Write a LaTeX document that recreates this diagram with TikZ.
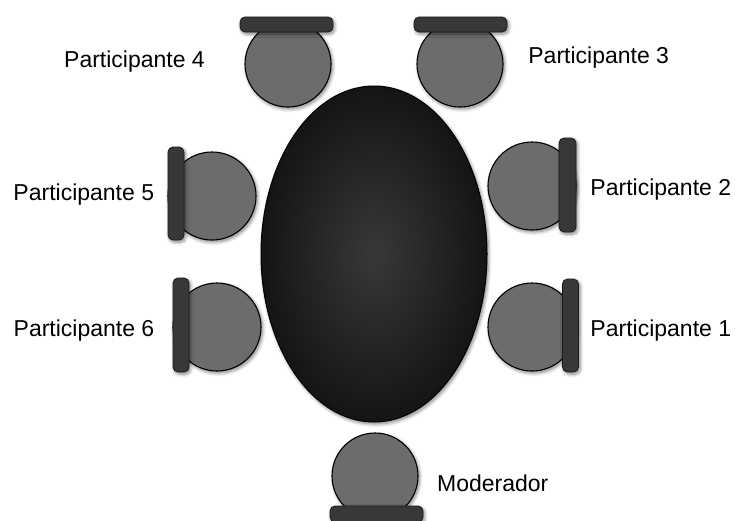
\documentclass[tikz,border=0pt]{standalone}
\usepackage{fontspec}
\setmainfont{Liberation Sans}
\usetikzlibrary{shapes.geometric,shadows.blur}
\definecolor{seat}{HTML}{6C6C6C}
\definecolor{backrest}{HTML}{383838}
\tikzset{
  shd/.style={blur shadow={shadow xshift=1.5pt,shadow yshift=-2pt,shadow blur radius=3.5pt,shadow blur steps=6,shadow opacity=50}},
  seatc/.style={circle,draw=black,line width=1.1pt,fill=seat,inner sep=0pt,minimum size=#1,shd},
  rest/.style={rectangle,rounded corners=5pt,draw=black!90,line width=0.8pt,fill=backrest,inner sep=0pt,shd},
  lbl/.style={font=\fontsize{23}{27}\selectfont,anchor=base,inner sep=0pt,text=black}
}
\begin{document}
\begin{tikzpicture}[x=1pt,y=-1pt]
\useasboundingbox (0,0) rectangle (735,520);
% table
\node[ellipse,draw=black,line width=1pt,minimum width=226pt,minimum height=336pt,inner sep=0pt,
      shading=radial,inner color=black!78,outer color=black!92,shd] (table) at (374,254) {};
% seats
\node[seatc=86pt] (s4) at (288,64) {};
\node[seatc=86pt] (s3) at (460,64) {};
\node[seatc=88pt] (s5) at (212,196) {};
\node[seatc=88pt] (s6) at (217,327) {};
\node[seatc=88pt] (s2) at (532,186) {};
\node[seatc=88pt] (s1) at (532,327) {};
\node[seatc=86pt] (sm) at (375,476) {};
% backrests
\node[rest,minimum width=93pt,minimum height=15pt] (b4) at (286.5,24.5) {};
\node[rest,minimum width=93pt,minimum height=15pt] (b3) at (460.5,24.5) {};
\node[rest,minimum width=16pt,minimum height=93pt] (b5) at (176,193.5) {};
\node[rest,minimum width=16pt,minimum height=94pt] (b6) at (181,325) {};
\node[rest,minimum width=17pt,minimum height=94pt] (b2) at (567.5,185) {};
\node[rest,minimum width=16pt,minimum height=93pt] (b1) at (570.5,325.5) {};
\node[rest,minimum width=93pt,minimum height=16pt] (bm) at (376.5,514) {};
% labels
\node[lbl] (l4) at (134.5,67.3) {Participante 4};
\node[lbl] (l3) at (598.7,63.3) {Participante 3};
\node[lbl] (l5) at (83.8,200) {Participante 5};
\node[lbl] (l2) at (660.8,195) {Participante 2};
\node[lbl] (l6) at (84,336) {Participante 6};
\node[lbl] (l1) at (660.8,336) {Participante 1};
\node[lbl] (lm) at (492.8,491.7) {Moderador};
\end{tikzpicture}
\end{document}
